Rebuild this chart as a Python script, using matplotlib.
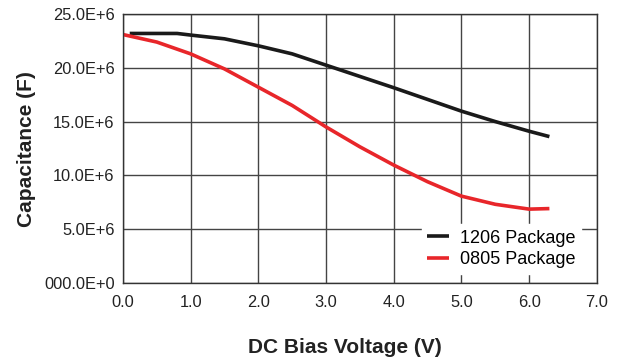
import matplotlib
matplotlib.use("Agg")
import matplotlib.pyplot as plt

volts_1206 = [0.1, 0.5, 0.8, 1.0, 1.5, 2.0, 2.5, 3.0, 3.5, 4.0, 4.5, 5.0, 5.5, 6.0, 6.3]
cap_1206 = [23.2, 23.2, 23.2, 23.05, 22.7, 22.05, 21.3, 20.25, 19.2, 18.15, 17.06, 15.97, 15.0, 14.1, 13.6]
volts_0805 = [0.0, 0.5, 1.0, 1.5, 2.0, 2.5, 3.0, 3.5, 4.0, 4.5, 5.0, 5.5, 6.0, 6.3]
cap_0805 = [23.1, 22.4, 21.3, 19.9, 18.2, 16.5, 14.5, 12.65, 10.95, 9.4, 8.06, 7.3, 6.85, 6.9]

x_ticks = [0, 1, 2, 3, 4, 5, 6, 7]
x_labels = ["0.0", "1.0", "2.0", "3.0", "4.0", "5.0", "6.0", "7.0"]
y_ticks = [0, 5, 10, 15, 20, 25]
y_labels = ["000.0E+0", "5.0E+6", "10.0E+6", "15.0E+6", "20.0E+6", "25.0E+6"]

plt.rcParams['font.family'] = ['Liberation Sans', 'DejaVu Sans']

fig = plt.figure(figsize=(6.21, 3.62), dpi=100)
ax = fig.add_axes([0.198, 0.219, 0.763, 0.742])

ax.plot(volts_1206, cap_1206, color="#1a1a1a", lw=2.6, label="1206 Package", solid_capstyle="butt")
ax.plot(volts_0805, cap_0805, color="#e8262a", lw=2.6, label="0805 Package", solid_capstyle="butt")

ax.set_xlim(0, 7)
ax.set_ylim(0, 25)
ax.set_xticks(x_ticks)
ax.set_xticklabels(x_labels)
ax.set_yticks(y_ticks)
ax.set_yticklabels(y_labels)
ax.tick_params(length=0, labelsize=11.8, colors="#222222")
ax.tick_params(axis="x", pad=9)
ax.tick_params(axis="y", pad=6)
ax.grid(True, color="#444444", lw=1.0)
ax.set_axisbelow(True)
for s in ax.spines.values():
    s.set_color("#333333")
    s.set_linewidth(1.0)

fig.text(0.5556, 0.0387, "DC Bias Voltage (V)", fontsize=15, fontweight="bold",
         color="#222222", ha="center", va="center")
fig.text(0.0419, 0.588, "Capacitance (F)", fontsize=15, fontweight="bold",
         color="#222222", ha="center", va="center", rotation=90)

leg = ax.legend(loc="lower right", frameon=True, fontsize=13, handlelength=1.2,
                borderaxespad=0.5, labelspacing=0.25, fancybox=False, borderpad=0.3,
                handletextpad=0.6, bbox_to_anchor=(0.985, 0.0))
leg.get_frame().set_edgecolor("white")
leg.get_frame().set_facecolor("white")
leg.get_frame().set_alpha(1.0)

fig.savefig("out.png", dpi=100)
